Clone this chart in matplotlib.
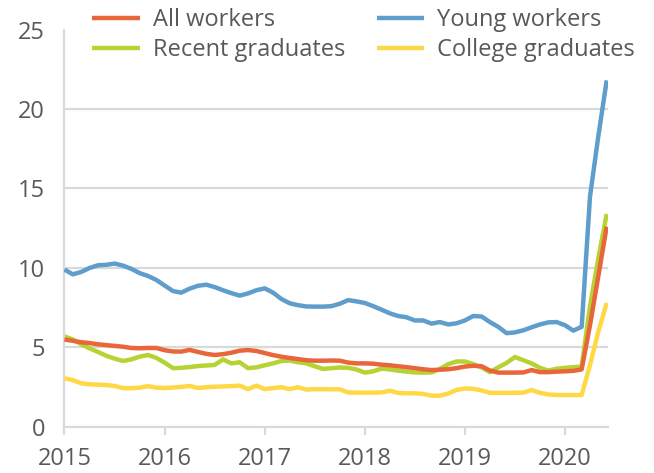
import matplotlib
matplotlib.use("Agg")
import matplotlib.pyplot as plt
import numpy as np
import pandas as pd

plt.rcParams['font.family'] = ['Open Sans', 'DejaVu Sans']

# Monthly data, Jan 2015 - Jun 2020
months = pd.date_range('2015-01-01', periods=66, freq='MS')

all_workers = [5.50, 5.42, 5.33, 5.28, 5.20, 5.15, 5.10, 5.05, 4.97, 4.95, 4.97, 4.97,
               4.83, 4.75, 4.74, 4.85, 4.72, 4.60, 4.53, 4.58, 4.67, 4.80, 4.84, 4.78,
               4.65, 4.52, 4.42, 4.34, 4.27, 4.20, 4.17, 4.17, 4.18, 4.17, 4.05, 4.00,
               4.00, 3.98, 3.92, 3.88, 3.82, 3.76, 3.70, 3.63, 3.58, 3.60, 3.63, 3.70,
               3.80, 3.85, 3.82, 3.55, 3.42, 3.42, 3.42, 3.43, 3.58, 3.45, 3.45, 3.48,
               3.50, 3.53, 3.62, 6.40, 9.50, 12.60]

young_workers = [9.90, 9.60, 9.75, 10.00, 10.17, 10.20, 10.28, 10.15, 9.95, 9.68, 9.50, 9.25,
                 8.90, 8.55, 8.45, 8.70, 8.88, 8.95, 8.80, 8.60, 8.42, 8.26, 8.40, 8.60,
                 8.72, 8.45, 8.05, 7.78, 7.66, 7.58, 7.57, 7.57, 7.60, 7.75, 7.98, 7.90,
                 7.80, 7.60, 7.38, 7.15, 6.98, 6.90, 6.70, 6.70, 6.50, 6.60, 6.45, 6.52,
                 6.70, 6.98, 6.95, 6.60, 6.30, 5.90, 5.95, 6.08, 6.27, 6.45, 6.58, 6.60,
                 6.40, 6.06, 6.30, 14.50, 18.30, 21.80]

recent_grads = [5.70, 5.50, 5.20, 4.95, 4.72, 4.48, 4.30, 4.15, 4.25, 4.42, 4.53, 4.35,
                4.05, 3.70, 3.72, 3.77, 3.83, 3.87, 3.90, 4.25, 4.00, 4.07, 3.70, 3.75,
                3.88, 4.00, 4.15, 4.18, 4.07, 4.00, 3.82, 3.65, 3.70, 3.74, 3.72, 3.62,
                3.42, 3.50, 3.67, 3.62, 3.54, 3.48, 3.43, 3.42, 3.43, 3.65, 3.95, 4.12,
                4.12, 3.95, 3.75, 3.45, 3.75, 4.03, 4.40, 4.20, 4.00, 3.72, 3.55, 3.66,
                3.72, 3.76, 3.80, 7.60, 10.60, 13.40]

college_grads = [3.06, 2.95, 2.75, 2.68, 2.66, 2.64, 2.58, 2.45, 2.44, 2.47, 2.57, 2.47,
                 2.45, 2.48, 2.52, 2.58, 2.45, 2.50, 2.53, 2.55, 2.57, 2.60, 2.38, 2.60,
                 2.38, 2.45, 2.50, 2.38, 2.50, 2.35, 2.38, 2.38, 2.37, 2.37, 2.17, 2.16,
                 2.16, 2.16, 2.17, 2.28, 2.14, 2.12, 2.12, 2.08, 1.97, 1.97, 2.10, 2.33,
                 2.42, 2.40, 2.30, 2.15, 2.15, 2.15, 2.15, 2.16, 2.32, 2.15, 2.05, 2.01,
                 2.01, 2.01, 2.01, 3.90, 6.00, 7.80]

year_ticks = [2015, 2016, 2017, 2018, 2019, 2020]
y_ticks = [0, 5, 10, 15, 20, 25]

c_all = '#E8663A'
c_young = '#5F9DCD'
c_recent = '#B6D334'
c_college = '#FFD945'
text_c = '#595959'
grid_c = '#D9D9D9'

x = months.year + (months.month - 1) / 12.0

fig = plt.figure(figsize=(6.54, 4.73), dpi=100)
ax = fig.add_axes([0.0986, 0.0973, 0.8311, 0.8403])

lw = 3.2
ax.plot(x, recent_grads, color=c_recent, lw=lw, zorder=2, label='Recent graduates',
        solid_joinstyle='round', solid_capstyle='butt')
ax.plot(x, college_grads, color=c_college, lw=lw, zorder=3, label='College graduates',
        solid_joinstyle='round', solid_capstyle='butt')
ax.plot(x, all_workers, color=c_all, lw=lw, zorder=4, label='All workers',
        solid_joinstyle='round', solid_capstyle='butt')
ax.plot(x, young_workers, color=c_young, lw=lw, zorder=5, label='Young workers',
        solid_joinstyle='round', solid_capstyle='butt')

ax.set_xlim(2015, 2020.43)
ax.set_ylim(0, 25)
ax.set_xticks(year_ticks)
ax.set_xticklabels([str(t) for t in year_ticks])
ax.set_yticks(y_ticks)
ax.set_yticklabels([str(t) for t in y_ticks])

for v in y_ticks[1:-1]:
    ax.axhline(v, color=grid_c, lw=1.6, zorder=1)

for s in ['top', 'right']:
    ax.spines[s].set_visible(False)
for s in ['left', 'bottom']:
    ax.spines[s].set_color(grid_c)
    ax.spines[s].set_linewidth(1.6)

ax.tick_params(axis='x', colors=grid_c, length=6, width=1.6, direction='out',
               labelcolor=text_c, labelsize=17, pad=8.5)
ax.tick_params(axis='y', length=0, labelcolor=text_c, labelsize=17, pad=14)

handles, labels = ax.get_legend_handles_labels()
order = ['All workers', 'Recent graduates', 'Young workers', 'College graduates']
hmap = dict(zip(labels, handles))
leg = fig.legend([hmap[k] for k in order], order, loc='upper left',
                 bbox_to_anchor=(0.116, 1.018), ncol=2, frameon=False,
                 fontsize=17, handlelength=2.0, handletextpad=0.55,
                 columnspacing=1.35, labelspacing=0.27, borderpad=0.2)
for t in leg.get_texts():
    t.set_color(text_c)

fig.savefig('out.png', dpi=100)
